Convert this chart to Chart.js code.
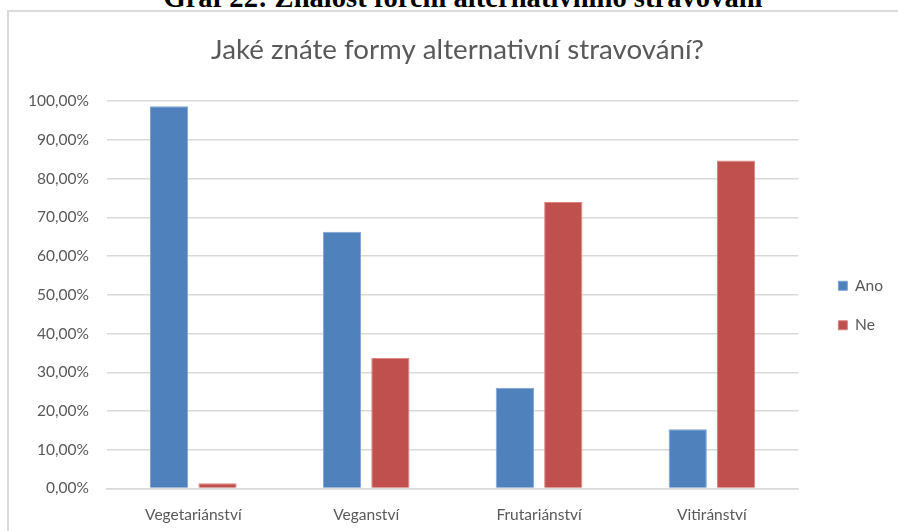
<!DOCTYPE html>
<html>
<head>
<meta charset="utf-8">
<script src="https://cdn.jsdelivr.net/npm/chart.js@4.4.0/dist/chart.umd.min.js"></script>
<style>
  html, body { margin: 0; padding: 0; background: #fff; overflow: hidden; }
  body { width: 898px; height: 531px; position: relative; }
  #caption {
    position: absolute; left: 14px; width: 898px; top: -18px; line-height: 30px;
    text-align: center; font: bold 28.6px "Liberation Serif", serif; color: #000;
    white-space: nowrap;
  }
  #box {
    position: absolute; left: 7px; top: 10px; width: 900px; height: 540px;
    border: 2px solid #dadada; box-sizing: border-box;
  }
  #wrap { position: absolute; left: 9px; top: 12px; width: 889px; height: 529px; }
</style>
</head>
<body>
<div id="caption">Graf 22: Znalost forem alternativního stravování</div>
<div id="box"></div>
<div id="wrap"><canvas id="chart"></canvas></div>
<script>
var chartTitle = "Jaké znáte formy alternativní stravování?";
var categories = ["Vegetariánství", "Veganství", "Frutariánství", "Vitiránství"];
var seriesNames = ["Ano", "Ne"];
var anoValues = [98.7, 66.3, 26.0, 15.3];
var neValues = [1.3, 33.7, 74.0, 84.7];
var yTicks = [0, 10, 20, 30, 40, 50, 60, 70, 80, 90, 100];

var font = "Lato, 'Open Sans', sans-serif";

function formatPercent(v) {
  return v.toFixed(2).replace(".", ",") + "%";
}

// nudge legend and title to where the original has them
var boxShift = {
  id: "boxShift",
  afterLayout: function (chart) {
    var lg = chart.legend;
    lg.top += 29;
    lg.bottom += 29;
    lg.left += 16;
    lg.right += 16;
    var t = chart.titleBlock;
    t.left += 14;
    t.right += 14;
  },
};

var data = {
  labels: categories,
  datasets: [
    {
      label: seriesNames[0],
      data: anoValues,
      backgroundColor: "#4f81bd",
      borderColor: "#7ea3d3",
      borderWidth: 1,
      categoryPercentage: 0.56,
      barPercentage: 0.79,
    },
    {
      label: seriesNames[1],
      data: neValues,
      backgroundColor: "#c0504d",
      borderColor: "#d98582",
      borderWidth: 1,
      categoryPercentage: 0.56,
      barPercentage: 0.79,
    },
  ],
};

var config = {
  type: "bar",
  data: data,
  plugins: [boxShift],
  options: {
    responsive: true,
    maintainAspectRatio: false,
    animation: false,
    layout: { padding: { left: 1, right: 21, top: 0, bottom: 0 } },
    plugins: {
      title: {
        display: true,
        text: chartTitle,
        color: "#595959",
        font: { family: font, size: 27.7, weight: "normal" },
        padding: { top: 21, bottom: 35 },
      },
      legend: {
        position: "right",
        labels: {
          color: "#595959",
          font: { family: font, size: 15.5 },
          boxWidth: 9,
          boxHeight: 9,
          padding: 24,
        },
      },
      tooltip: { enabled: false },
    },
    scales: {
      x: {
        grid: { display: false, drawTicks: false },
        border: { color: "#d9d9d9", width: 1.5 },
        ticks: {
          color: "#595959",
          font: { family: font, size: 15.5 },
          padding: 17,
        },
      },
      y: {
        min: 0,
        max: 100,
        afterBuildTicks: function (axis) {
          axis.ticks = yTicks.map(function (v) { return { value: v }; });
        },
        grid: { color: "#d9d9d9", lineWidth: 1.5, drawTicks: false },
        border: { display: false },
        ticks: {
          color: "#595959",
          font: { family: font, size: 15.5 },
          padding: 18,
          callback: function (v) { return formatPercent(v); },
        },
      },
    },
  },
};

var canvas = document.getElementById("chart");
var chart = new Chart(canvas.getContext("2d"), config);
</script>
</body>
</html>
